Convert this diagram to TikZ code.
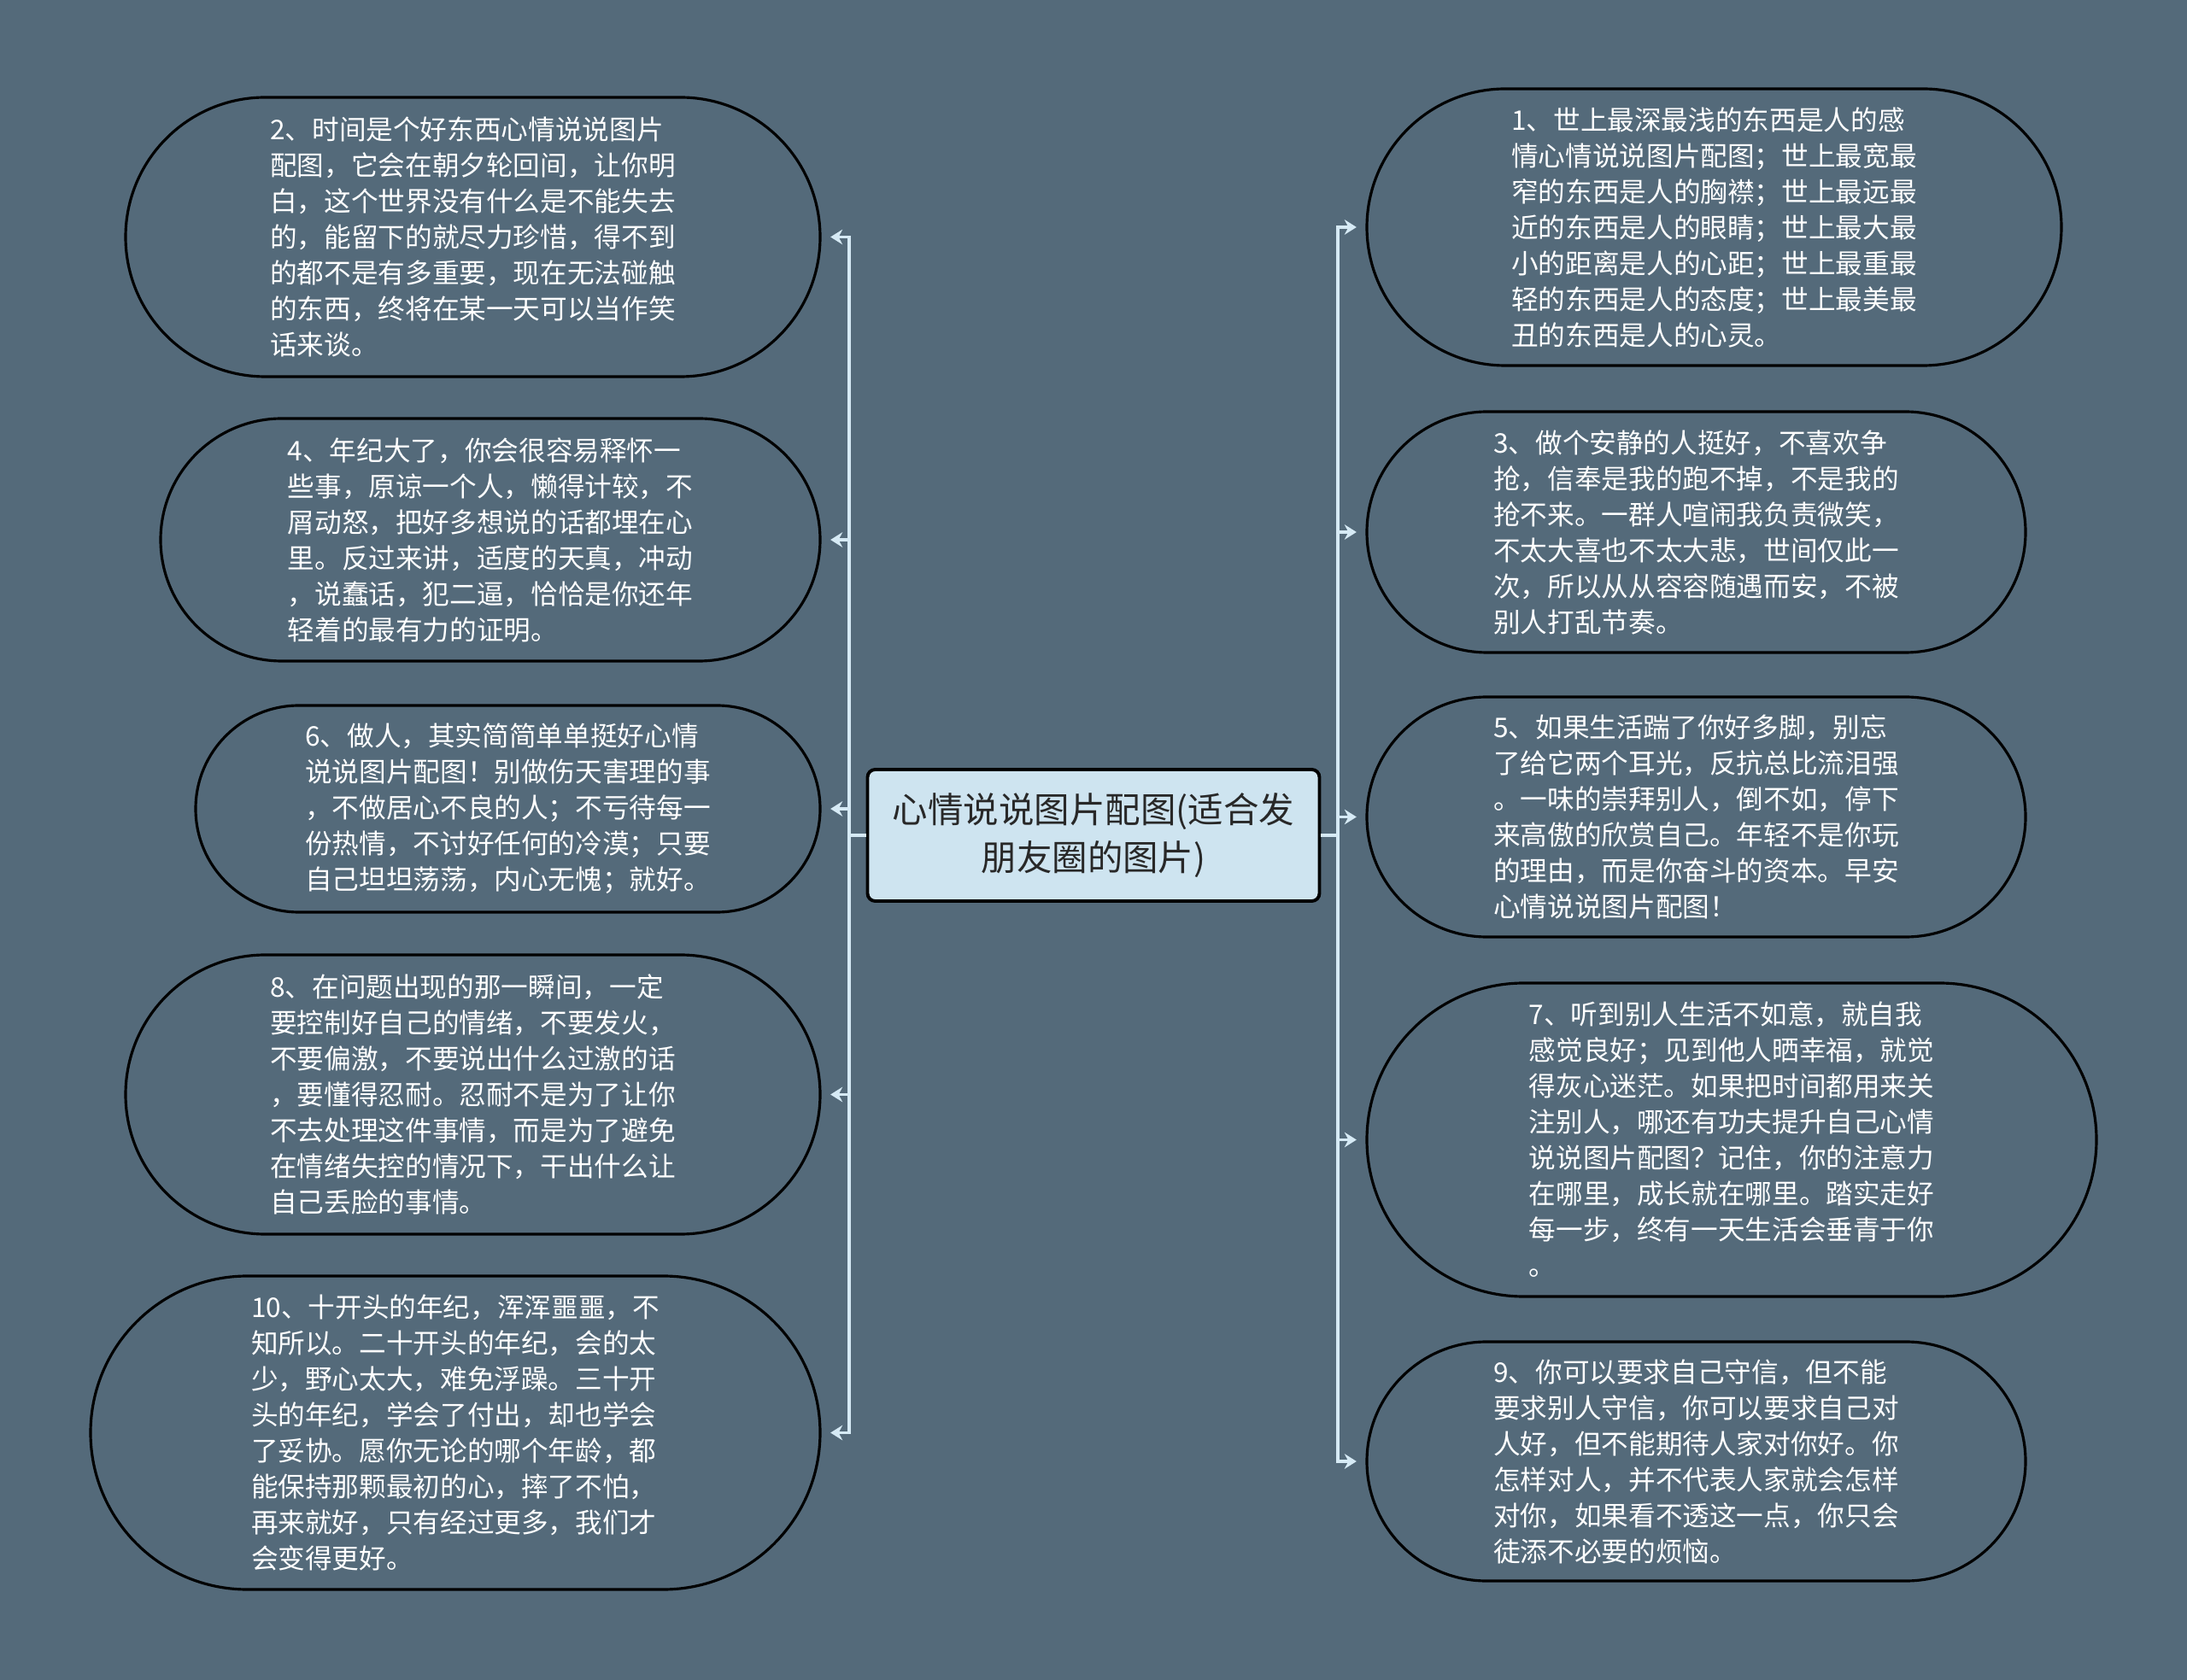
\documentclass[tikz,border=0pt]{standalone}
\usepackage{fontspec}
\newfontfamily\cjk{Noto Sans CJK SC}
\usetikzlibrary{arrows.meta,shapes.misc}
\definecolor{bgslate}{RGB}{84,106,122}
\definecolor{hubblue}{RGB}{206,228,240}
\definecolor{linkblue}{RGB}{214,234,245}
\definecolor{hubtext}{RGB}{40,40,40}

\begin{document}
\begin{tikzpicture}[shorten >=3pt,
		root_style/.style={rectangle,rounded corners=0.09cm,draw=black,line width=1.1pt,fill=hubblue,text=hubtext,align=center,font=\cjk\fontsize{11.8}{15.8}\selectfont,minimum width=5.29cm,minimum height=1.54cm,inner sep=0pt},
		leaf_style/.style={rounded rectangle,draw=black,line width=0.9pt,fill=bgslate,text=white,align=left,font=\cjk\fontsize{9}{11.95}\selectfont,inner sep=0pt},
		edge_style/.style={draw=linkblue,line width=1pt,-{Stealth[length=4pt,width=5pt]}}]

		\fill[bgslate] (0,0) rectangle (25.6,-19.67);
		\useasboundingbox (0,0) rectangle (25.6,-19.67);

		\node[root_style] (hub) at (12.80,-9.78) {心情说说图片配图(适合发\\朋友圈的图片)};

		% left side
		\node[leaf_style,minimum width=8.13cm,minimum height=3.27cm] (n2) at (5.535,-2.775) {2、时间是个好东西心情说说图片\\配图，它会在朝夕轮回间，让你明\\白，这个世界没有什么是不能失去\\的，能留下的就尽力珍惜，得不到\\的都不是有多重要，现在无法碰触\\的东西，终将在某一天可以当作笑\\话来谈。};
		\node[leaf_style,minimum width=7.72cm,minimum height=2.84cm] (n4) at (5.74,-6.32) {4、年纪大了，你会很容易释怀一\\些事，原谅一个人，懒得计较，不\\屑动怒，把好多想说的话都埋在心\\里。反过来讲，适度的天真，冲动\\，说蠢话，犯二逼，恰恰是你还年\\轻着的最有力的证明。};
		\node[leaf_style,minimum width=7.31cm,minimum height=2.42cm] (n6) at (5.945,-9.47) {6、做人，其实简简单单挺好心情\\说说图片配图！别做伤天害理的事\\，不做居心不良的人；不亏待每一\\份热情，不讨好任何的冷漠；只要\\自己坦坦荡荡，内心无愧；就好。};
		\node[leaf_style,minimum width=8.13cm,minimum height=3.27cm] (n8) at (5.535,-12.815) {8、在问题出现的那一瞬间，一定\\要控制好自己的情绪，不要发火，\\不要偏激，不要说出什么过激的话\\，要懂得忍耐。忍耐不是为了让你\\不去处理这件事情，而是为了避免\\在情绪失控的情况下，干出什么让\\自己丢脸的事情。};
		\node[leaf_style,minimum width=8.54cm,minimum height=3.67cm] (n10) at (5.33,-16.775) {10、十开头的年纪，浑浑噩噩，不\\知所以。二十开头的年纪，会的太\\少，野心太大，难免浮躁。三十开\\头的年纪，学会了付出，却也学会\\了妥协。愿你无论的哪个年龄，都\\能保持那颗最初的心，摔了不怕，\\再来就好，只有经过更多，我们才\\会变得更好。};

		% right side
		\node[leaf_style,minimum width=8.13cm,minimum height=3.24cm] (n1) at (20.065,-2.66) {1、世上最深最浅的东西是人的感\\情心情说说图片配图；世上最宽最\\窄的东西是人的胸襟；世上最远最\\近的东西是人的眼睛；世上最大最\\小的距离是人的心距；世上最重最\\轻的东西是人的态度；世上最美最\\丑的东西是人的心灵。};
		\node[leaf_style,minimum width=7.71cm,minimum height=2.82cm] (n3) at (19.855,-6.23) {3、做个安静的人挺好，不喜欢争\\抢，信奉是我的跑不掉，不是我的\\抢不来。一群人喧闹我负责微笑，\\不太大喜也不太大悲，世间仅此一\\次，所以从从容容随遇而安，不被\\别人打乱节奏。};
		\node[leaf_style,minimum width=7.71cm,minimum height=2.81cm] (n5) at (19.855,-9.565) {5、如果生活踹了你好多脚，别忘\\了给它两个耳光，反抗总比流泪强\\。一味的崇拜别人，倒不如，停下\\来高傲的欣赏自己。年轻不是你玩\\的理由，而是你奋斗的资本。早安\\心情说说图片配图！};
		\node[leaf_style,minimum width=8.54cm,minimum height=3.67cm] (n7) at (20.27,-13.345) {7、听到别人生活不如意，就自我\\感觉良好；见到他人晒幸福，就觉\\得灰心迷茫。如果把时间都用来关\\注别人，哪还有功夫提升自己心情\\说说图片配图？记住，你的注意力\\在哪里，成长就在哪里。踏实走好\\每一步，终有一天生活会垂青于你\\。};
		\node[leaf_style,minimum width=7.71cm,minimum height=2.80cm] (n9) at (19.855,-17.11) {9、你可以要求自己守信，但不能\\要求别人守信，你可以要求自己对\\人好，但不能期待人家对你好。你\\怎样对人，并不代表人家就会怎样\\对你，如果看不透这一点，你只会\\徒添不必要的烦恼。};

		\coordinate (lt) at (9.94,-9.78);
		\coordinate (rt) at (15.66,-9.78);

		\foreach \n in {n2,n4,n6,n8,n10}
			\draw[edge_style] (hub.west) -- (lt) |- (\n.east);
		\foreach \n in {n1,n3,n5,n7,n9}
			\draw[edge_style] (hub.east) -- (rt) |- (\n.west);

\end{tikzpicture}
\end{document}
